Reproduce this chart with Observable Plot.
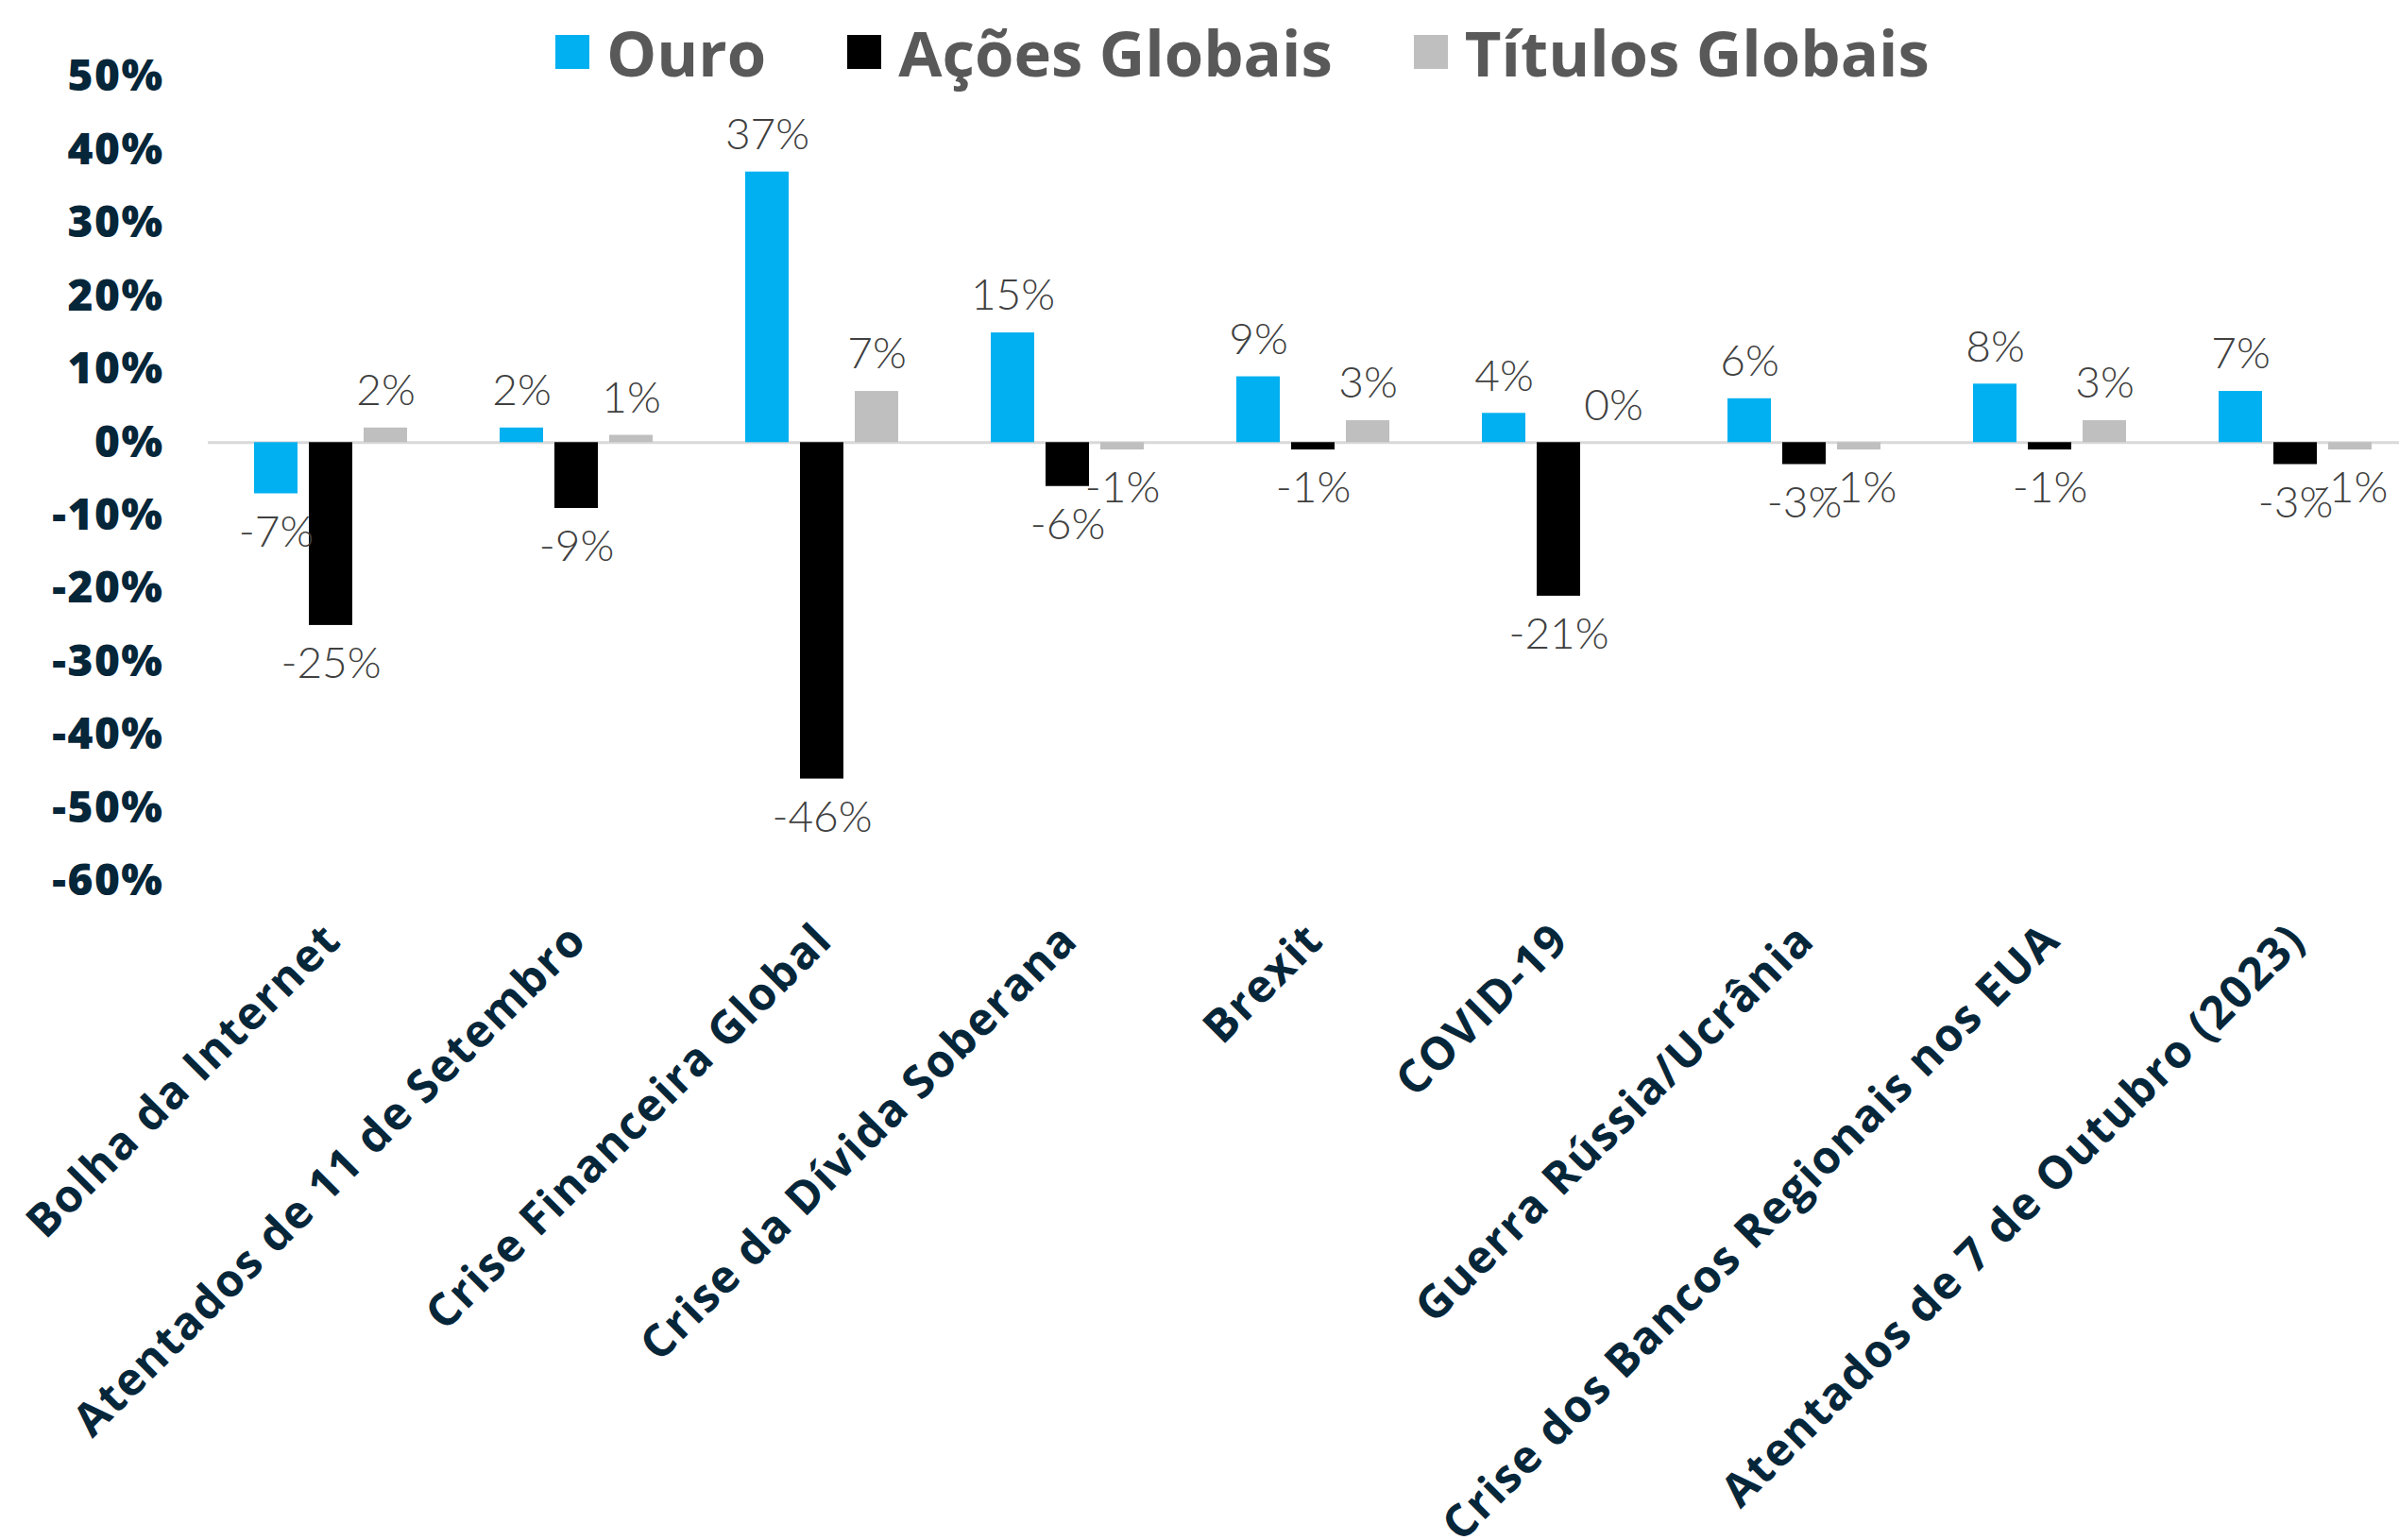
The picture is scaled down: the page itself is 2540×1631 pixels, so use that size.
<!DOCTYPE html>
<html><head><meta charset="utf-8">
<script src="https://cdn.jsdelivr.net/npm/d3@7"></script>
<script src="https://cdn.jsdelivr.net/npm/@observablehq/plot@0.6"></script>
<style>
html,body{margin:0;padding:0;background:#fff;overflow:hidden;width:2540px;height:1631px}
#legend{position:relative;height:40px;z-index:2}
#legend .items{position:absolute;left:588px;top:26px;height:58px;display:flex;align-items:center;font-family:"Open Sans";font-weight:700;font-size:67px;color:#595959;line-height:58px;white-space:nowrap}
.item{display:flex;align-items:center;margin-right:86px}
.sw{width:36px;height:36px;margin-right:18px}
#chart svg{display:block}
#chart g[aria-label="fx-axis tick label"]{letter-spacing:1.5px}
#chart g[aria-label="y-axis tick label"]{letter-spacing:1.5px}
</style></head><body>
<div id="legend"></div>
<div id="chart"></div>
<script>
const categories = ["Bolha da Internet","Atentados de 11 de Setembro","Crise Financeira Global","Crise da Dívida Soberana","Brexit","COVID-19","Guerra Rússia/Ucrânia","Crise dos Bancos Regionais nos EUA","Atentados de 7 de Outubro (2023)"];
const series = ["Ouro","Ações Globais","Títulos Globais"];
const ouro = [-7, 2, 37, 15, 9, 4, 6, 8, 7];
const acoes = [-25, -9, -46, -6, -1, -21, -3, -1, -3];
const titulos = [2, 1, 7, -1, 3, 0, -1, 3, -1];
const colors = ["#00B0F0","#000000","#BFBFBF"];
const yTicks = [50, 40, 30, 20, 10, 0, -10, -20, -30, -40, -50, -60];

const seriesValues = [ouro, acoes, titulos];
const data = [];
categories.forEach((c, i) => {
  series.forEach((s, j) => data.push({category: c, series: s, value: seriesValues[j][i]}));
});

// legend
const leg = document.createElement("div");
leg.className = "items";
series.forEach((s, j) => {
  const it = document.createElement("div");
  it.className = "item";
  const sw = document.createElement("span");
  sw.className = "sw";
  sw.style.background = colors[j];
  const t = document.createElement("span");
  t.textContent = s;
  it.appendChild(sw); it.appendChild(t);
  leg.appendChild(it);
});
document.getElementById("legend").appendChild(leg);

const fmt = d => `${d.value}%`;
const labelStyle = {fontFamily: "Lato", fontWeight: 300, fontSize: 46, fill: "#404040"};

const plot = Plot.plot({
  width: 2563,
  height: 1591,
  marginTop: 41,
  marginBottom: 698,
  marginLeft: 216,
  marginRight: 0,
  style: {background: "transparent", fontFamily: "Open Sans", maxWidth: "none"},
  fx: {domain: categories, padding: 0, label: null},
  x: {domain: series, paddingInner: 0.2, paddingOuter: 0.835, axis: null},
  y: {domain: [-60, 50], axis: null},
  color: {domain: series, range: colors},
  marks: [
    Plot.ruleY([0], {stroke: "#D9D9D9", strokeWidth: 3}),
    Plot.barY(data, {fx: "category", x: "series", y: "value", fill: "series"}),
    Plot.text(data.filter(d => d.value >= 0), {fx: "category", x: "series", y: "value", text: fmt, dy: -39, ...labelStyle}),
    Plot.text(data.filter(d => d.value < 0), {fx: "category", x: "series", y: "value", text: fmt, dy: 41, ...labelStyle}),
    Plot.axisY({ticks: yTicks, tickFormat: d => `${d}%`, tickSize: 0, tickPadding: 47, fontSize: 46, fontWeight: 800, fill: "#062639", label: null}),
    Plot.axisFx({anchor: "bottom", tickRotate: -45, tickSize: 0, tickPadding: 54, dx: 2, fontSize: 48, fontWeight: 700, fill: "#062639", label: null})
  ]
});
document.getElementById("chart").appendChild(plot);
</script>
</body></html>
